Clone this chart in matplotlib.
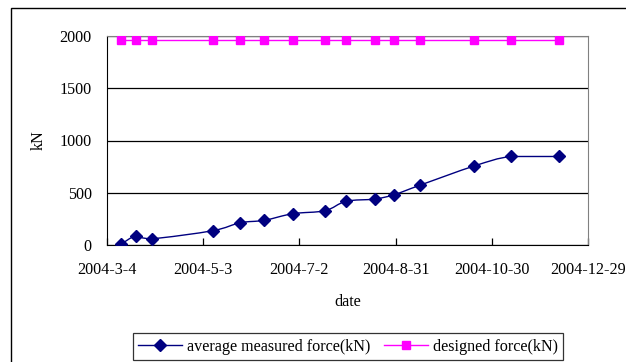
import datetime as dt

import matplotlib
matplotlib.use("Agg")
import matplotlib.pyplot as plt
import matplotlib.dates as mdates
from matplotlib.path import Path
from matplotlib.patches import PathPatch, Rectangle
from matplotlib.lines import Line2D

plt.rcParams['font.family'] = ['Liberation Serif', 'DejaVu Serif']
plt.rcParams['font.size'] = 11.6

# readings
dates = ["2004-03-13", "2004-03-22", "2004-04-01", "2004-05-09", "2004-05-26",
         "2004-06-10", "2004-06-28", "2004-07-18", "2004-07-31", "2004-08-18",
         "2004-08-30", "2004-09-15", "2004-10-19", "2004-11-11", "2004-12-11"]
measured = [10, 86, 60, 137, 213, 236, 300, 328, 418, 440, 481, 571, 756, 847, 847]
designed = [1960] * len(dates)

tick_dates = ["2004-03-04", "2004-05-03", "2004-07-02", "2004-08-31",
              "2004-10-30", "2004-12-29"]
y_ticks = [0, 500, 1000, 1500, 2000]

days = [dt.datetime.strptime(d, "%Y-%m-%d") for d in dates]
ticks = [dt.datetime.strptime(d, "%Y-%m-%d") for d in tick_dates]
xs = mdates.date2num(days)


def smooth_path(x, y):
    # cubic bezier segments through the points, control points kept
    # inside each segment's y range so flat stretches stay flat
    n = len(x)
    verts = [(x[0], y[0])]
    codes = [Path.MOVETO]
    for i in range(n - 1):
        x0, y0 = (x[i - 1], y[i - 1]) if i > 0 else (x[i], y[i])
        x3, y3 = (x[i + 2], y[i + 2]) if i + 2 < n else (x[i + 1], y[i + 1])
        lo, hi = min(y[i], y[i + 1]), max(y[i], y[i + 1])
        c1y = min(max(y[i] + (y[i + 1] - y0) / 6, lo), hi)
        c2y = min(max(y[i + 1] - (y3 - y[i]) / 6, lo), hi)
        c1 = (x[i] + (x[i + 1] - x0) / 6, c1y)
        c2 = (x[i + 1] - (x3 - x[i]) / 6, c2y)
        verts += [c1, c2, (x[i + 1], y[i + 1])]
        codes += [Path.CURVE4] * 3
    return Path(verts, codes)


fig = plt.figure(figsize=(6.26, 3.62), dpi=100)

# chart area border
fig.patches.append(Rectangle((11 / 626, -0.05), 1.2, 1 - 8 / 362 + 0.05,
                             transform=fig.transFigure, fill=False,
                             edgecolor='black', linewidth=1.0))

ax = fig.add_axes([107 / 626, 117 / 362, 481 / 626, 209 / 362])

navy = '#000080'
magenta = '#FF00FF'

ax.add_patch(PathPatch(smooth_path(xs, measured), fill=False,
                       edgecolor=navy, linewidth=1.0, zorder=3))
ax.plot(days, measured, linestyle='none', marker='D', markersize=6,
        color=navy, zorder=4)
ax.plot(days, designed, color=magenta, linewidth=1.0, marker='s',
        markersize=5.2, zorder=4)

ax.set_xlim(ticks[0], ticks[-1])
ax.set_ylim(0, 2000)
ax.set_xticks(ticks)
ax.set_xticklabels([f"{t.year}-{t.month}-{t.day}" for t in ticks])
ax.set_yticks(y_ticks)
ax.yaxis.grid(True, color='black', linewidth=0.9)
ax.set_axisbelow(True)
ax.tick_params(axis='x', direction='in', length=5, width=0.9, pad=12,
               colors='black')
ax.tick_params(axis='y', length=0, pad=11, colors='black')
for side in ('left', 'bottom'):
    ax.spines[side].set_color('black')
for side in ('right', 'top'):
    ax.spines[side].set_color('#808080')

ax.set_xlabel("date", labelpad=12)
ax.set_ylabel("kN", labelpad=9)

handles = [
    Line2D([], [], color=navy, marker='D', markersize=6, linewidth=1.0),
    Line2D([], [], color=magenta, marker='s', markersize=5.2, linewidth=1.0),
]
leg = fig.legend(handles, ["average measured force(kN)", "designed force(kN)"],
                 loc='upper center', bbox_to_anchor=(348 / 626, 1 - 333 / 362),
                 ncol=2, frameon=True, fancybox=False, edgecolor='black',
                 handlelength=2.7, handletextpad=0.3, columnspacing=0.9,
                 borderpad=0.35, borderaxespad=0, fontsize=11.6)
leg.get_frame().set_linewidth(0.9)

fig.savefig("out.png", dpi=100)
